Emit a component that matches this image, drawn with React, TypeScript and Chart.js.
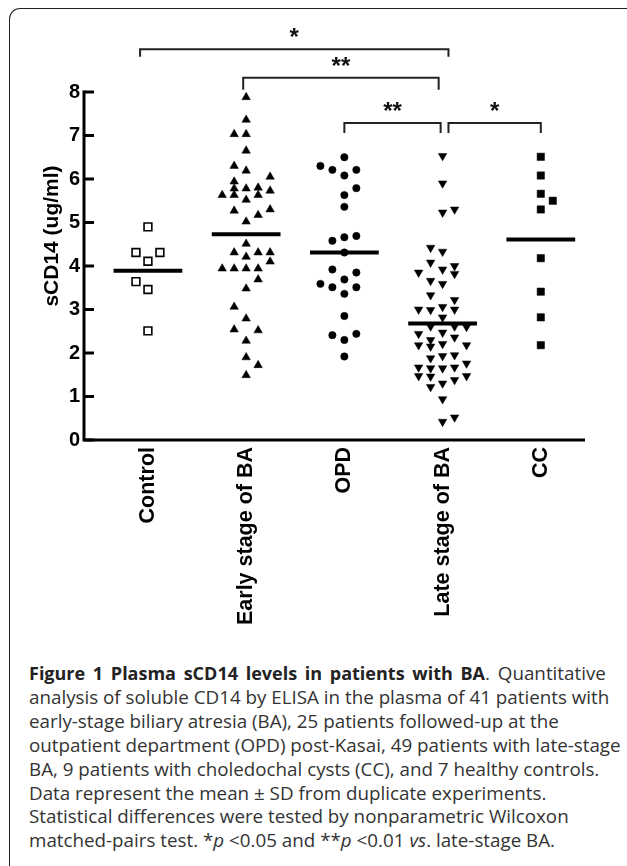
import React, { useEffect, useRef } from "react";
import { Chart, registerables } from "chart.js";

Chart.register(...registerables);

// ---------- data ----------
const categories = ["Control", "Early stage of BA", "OPD", "Late stage of BA", "CC"];

const controlValues = [4.9, 4.31, 4.31, 4.11, 3.64, 3.46, 2.51];
const controlLanes = [0, -1, 1, 0, -1, 0, 0];

const earlyValues = [
  7.88, 7.36, 7.03, 7.03, 6.65, 6.3, 6.19, 6.05, 5.94, 5.78, 5.78, 5.8, 5.73, 5.63, 5.63, 5.63,
  5.52, 5.27, 5.3, 5.17, 5.02, 4.51, 4.31, 4.31, 4.31, 4.21, 4.1, 3.94, 3.94, 3.94, 3.94, 3.69,
  3.48, 3.06, 2.79, 2.54, 2.52, 2.28, 1.9, 1.72, 1.49,
];
const earlyLanes = [
  0, 0, -1, 0, 0, -1, 0, 2, -1, -1, 0, 1, 2, -2, -1, 1,
  0, -1, 2, 1, 0, 0, -1, 1, 2, 0, 2, -2, -1, 0, 1, 1,
  0, -1, 0, -1, 1, 0, 0, 1, 0,
];

const opdValues = [
  6.5, 6.3, 6.21, 6.21, 6.08, 5.79, 5.63, 5.36, 4.66, 4.58, 4.69, 4.31, 3.92, 3.85, 3.69, 3.59,
  3.51, 3.51, 3.36, 2.85, 2.41, 2.44, 2.3, 1.92,
];
const opdLanes = [0, -2, -1, 1, 0, 1, 0, 0, 0, -1, 1, 0, -1, 1, 0, -2, -1, 1, 0, 0, -1, 1, 0, 0];

const lateValues = [
  6.53, 5.9, 5.23, 5.3, 4.42, 4.33, 4.08, 3.92, 4.0, 3.82, 3.85, 3.66, 3.59, 3.33, 3.22, 3.0,
  2.99, 3.06, 3.0, 2.82, 2.61, 2.61, 2.6, 2.44, 2.47, 2.36, 2.18, 2.3, 2.15, 2.21, 2.18, 1.88,
  1.93, 1.95, 1.76, 1.67, 1.65, 1.65, 1.67, 1.47, 1.46, 1.38, 1.47, 1.22, 1.3, 0.94, 0.42, 0.52,
];
const lateLanes = [
  0, 0, 0, 1, -1, 0, -1, 0, 1, 1, -2, -1, 0, -1, 1, -2,
  -1, 0, 1, 0, -1, 1, 2, -2, 0, 1, -2, -1, -1, 0, 2, -1,
  0, 1, 2, -2, -1, 0, 1, -2, -1, 1, 2, -1, 0, 0, 0, 1,
];

const ccValues = [6.51, 6.08, 5.66, 5.5, 5.3, 4.18, 3.41, 2.82, 2.18];
const ccLanes = [0, 0, 0, 1, 0, 0, 0, 0, 0];

const groupMeans = [3.89, 4.73, 4.31, 2.68, 4.61];

const yTicks = [0, 1, 2, 3, 4, 5, 6, 7, 8];

// significance brackets (x in category units, y in data units)
const bracketStart = [0.92, 1.97, 3.0, 4.06];
const bracketEnd = [4.06, 3.96, 3.98, 5.0];
const bracketTop = [8.98, 8.33, 7.29, 7.29];
const bracketLeg = [8.81, 8.05, 7.06, 7.06];
const bracketLabels = ["*", "**", "**", "*"];

// ---------- layout constants ----------
const LANE_STEP = 0.122;
const MEAN_HALF = 0.35;
const FONT = '"Liberation Sans", Arial, Helvetica, sans-serif';

const groups = [
  { values: controlValues, lanes: controlLanes, style: "rect", radius: 5.5, fill: "#ffffff", border: "#000", bw: 1.6, rot: 0 },
  { values: earlyValues, lanes: earlyLanes, style: "triangle", radius: 4.9, fill: "#000", border: "#000", bw: 0.5, rot: 0 },
  { values: opdValues, lanes: opdLanes, style: "circle", radius: 3.7, fill: "#000", border: "#000", bw: 0.5, rot: 0 },
  { values: lateValues, lanes: lateLanes, style: "triangle", radius: 4.9, fill: "#000", border: "#000", bw: 0.5, rot: 180 },
  { values: ccValues, lanes: ccLanes, style: "rect", radius: 5.2, fill: "#000", border: "#000", bw: 0.5, rot: 0 },
];

const overlayPlugin = {
  id: "overlay",
  afterDraw(chart: any) {
    const { ctx, chartArea, scales } = chart;
    const x = scales.x;
    const y = scales.y;
    ctx.save();
    // axes
    ctx.strokeStyle = "#000";
    ctx.lineWidth = 3;
    ctx.lineJoin = "miter";
    ctx.lineCap = "butt";
    ctx.beginPath();
    ctx.moveTo(chartArea.left, y.getPixelForValue(8) - 1.5);
    ctx.lineTo(chartArea.left, chartArea.bottom);
    ctx.lineTo(chartArea.right, chartArea.bottom);
    ctx.stroke();
    // inward y ticks
    yTicks.forEach((v) => {
      const py = y.getPixelForValue(v);
      ctx.beginPath();
      ctx.moveTo(chartArea.left, py);
      ctx.lineTo(chartArea.left + 10, py);
      ctx.stroke();
    });
    // brackets
    ctx.strokeStyle = "#222";
    ctx.lineWidth = 2;
    ctx.fillStyle = "#111";
    ctx.font = `bold 24px ${FONT}`;
    ctx.textAlign = "center";
    ctx.textBaseline = "alphabetic";
    bracketStart.forEach((s, i) => {
      const x1 = x.getPixelForValue(s);
      const x2 = x.getPixelForValue(bracketEnd[i]);
      const yt = y.getPixelForValue(bracketTop[i]);
      const yl = y.getPixelForValue(bracketLeg[i]);
      ctx.beginPath();
      ctx.moveTo(x1, yl);
      ctx.lineTo(x1, yt);
      ctx.lineTo(x2, yt);
      ctx.lineTo(x2, yl);
      ctx.stroke();
      ctx.fillText(bracketLabels[i], (x1 + x2) / 2, yt - 4);
    });
    // y title
    ctx.translate(52, 236);
    ctx.rotate(-Math.PI / 2);
    ctx.font = `bold 21px ${FONT}`;
    ctx.fillStyle = "#000";
    ctx.textAlign = "center";
    ctx.textBaseline = "middle";
    ctx.fillText("sCD14 (ug/ml)", 0, 0);
    ctx.restore();
  },
};

function ChartView() {
  const ref = useRef<HTMLCanvasElement | null>(null);
  useEffect(() => {
    if (!ref.current) return;
    const datasets: any[] = [];
    groups.forEach((g, gi) => {
      datasets.push({
        type: "scatter",
        data: g.values.map((v, i) => ({ x: gi + 1 + g.lanes[i] * LANE_STEP, y: v })),
        pointStyle: g.style,
        pointRadius: g.radius,
        pointRotation: g.rot,
        backgroundColor: g.fill,
        borderColor: g.border,
        pointBorderWidth: g.bw,
        borderWidth: g.bw,
        clip: false,
      });
    });
    groupMeans.forEach((m, gi) => {
      datasets.push({
        type: "scatter",
        data: [
          { x: gi + 1 - MEAN_HALF, y: m },
          { x: gi + 1 + MEAN_HALF, y: m },
        ],
        showLine: true,
        borderColor: "#000",
        borderWidth: 4,
        pointRadius: 0,
        clip: false,
      });
    });
    const chart = new Chart(ref.current, {
      type: "scatter",
      data: { datasets },
      plugins: [overlayPlugin],
      options: {
        animation: false,
        responsive: false,
        events: [],
        layout: { padding: { top: 92, left: 0, right: 42, bottom: 0 } },
        plugins: { legend: { display: false }, tooltip: { enabled: false } },
        scales: {
          x: {
            type: "linear",
            min: 0.349,
            max: 5.45,
            grid: { display: false, drawTicks: false },
            border: { display: false },
            afterBuildTicks: (scale: any) => {
              scale.ticks = categories.map((_, i) => ({ value: i + 1 }));
            },
            afterFit: (scale: any) => {
              scale.height = 200;
            },
            ticks: {
              autoSkip: false,
              minRotation: 90,
              maxRotation: 90,
              padding: 7,
              color: "#000",
              font: { family: FONT, size: 21.5, weight: "bold" },
              callback: (value: any) => categories[Math.round(Number(value)) - 1] ?? "",
            },
          },
          y: {
            type: "linear",
            min: 0,
            max: 8,
            grid: { display: false, drawTicks: false },
            border: { display: false },
            afterFit: (scale: any) => {
              scale.width = 84;
            },
            afterBuildTicks: (scale: any) => {
              scale.ticks = yTicks.map((v) => ({ value: v }));
            },
            ticks: {
              padding: 4,
              color: "#000",
              font: { family: FONT, size: 20, weight: "bold" },
            },
          },
        },
      } as any,
    });
    return () => chart.destroy();
  }, []);
  return <canvas ref={ref} width={627} height={640} style={{ position: "absolute", left: 0, top: 0 }} />;
}

const captionLines: React.ReactNode[] = [
  <>
    <b style={{ color: "#222", fontSize: 18 }}>Figure 1 Plasma sCD14 levels in patients with BA</b>. Quantitative
  </>,
  <>analysis of soluble CD14 by ELISA in the plasma of 41 patients with</>,
  <>early-stage biliary atresia (BA), 25 patients followed-up at the</>,
  <>outpatient department (OPD) post-Kasai, 49 patients with late-stage</>,
  <>BA, 9 patients with choledochal cysts (CC), and 7 healthy controls.</>,
  <>Data represent the mean ± SD from duplicate experiments.</>,
  <>Statistical differences were tested by nonparametric Wilcoxon</>,
  <>
    matched-pairs test. *<i>p</i> &lt;0.05 and **<i>p</i> &lt;0.01 <i>vs</i>. late-stage BA.
  </>,
];

export default function App() {
  return (
    <div
      style={{
        position: "fixed",
        left: 0,
        top: 0,
        width: 627,
        height: 866,
        overflow: "hidden",
        background: "#fff",
      }}
    >
      <div
        style={{
          position: "absolute",
          left: 9,
          top: 8,
          width: 700,
          height: 1000,
          borderTop: "1.5px solid #222",
          borderLeft: "1.5px solid #222",
          borderTopLeftRadius: 11,
        }}
      />
      <ChartView />
      <div
        style={{
          position: "absolute",
          left: 29,
          top: 662,
          fontFamily: '"Open Sans", sans-serif',
          fontSize: 18.8,
          lineHeight: "23.9px",
          color: "#333",
          whiteSpace: "nowrap",
        }}
      >
        {captionLines.map((l, i) => (
          <div key={i} style={i === 0 ? { wordSpacing: 3 } : undefined}>
            {l}
          </div>
        ))}
      </div>
    </div>
  );
}
